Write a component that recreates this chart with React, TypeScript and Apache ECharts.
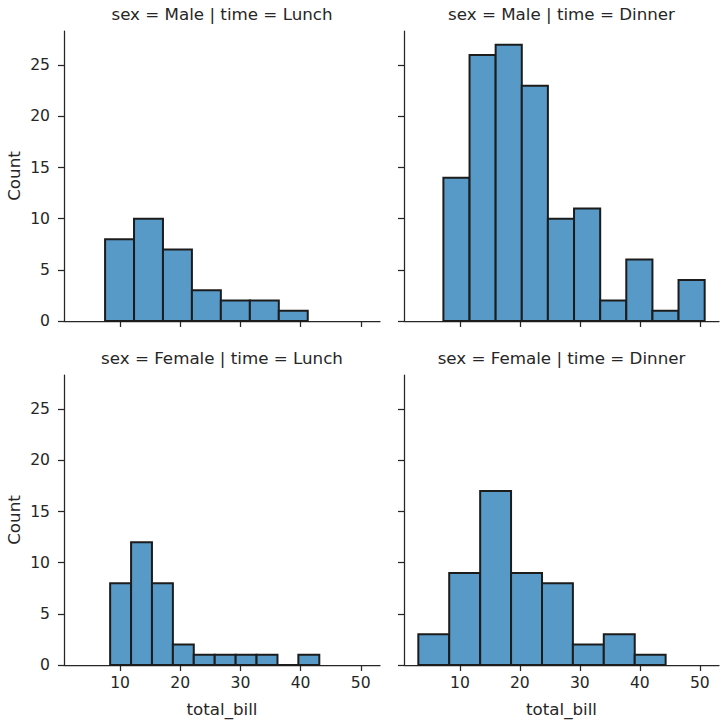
import React, { useEffect, useRef } from "react";
import * as echarts from "echarts";

// Histogram bin edges (total_bill) and counts for each facet
const maleLunchEdges = [7.51, 12.32, 17.13, 21.94, 26.75, 31.57, 36.38, 41.19];
const maleLunchCounts = [8, 10, 7, 3, 2, 2, 1];

const maleDinnerEdges = [7.25, 11.61, 15.96, 20.32, 24.67, 29.03, 33.39, 37.74, 42.1, 46.45, 50.81];
const maleDinnerCounts = [14, 26, 27, 23, 10, 11, 2, 6, 1, 4];

const femaleLunchEdges = [8.35, 11.83, 15.3, 18.78, 22.25, 25.73, 29.21, 32.68, 36.16, 39.63, 43.11];
const femaleLunchCounts = [8, 12, 8, 2, 1, 1, 1, 1, 0, 1];

const femaleDinnerEdges = [3.07, 8.22, 13.38, 18.53, 23.69, 28.84, 33.99, 39.15, 44.3];
const femaleDinnerCounts = [3, 9, 17, 9, 8, 2, 3, 1];

const panelTitles = [
  "sex = Male | time = Lunch",
  "sex = Male | time = Dinner",
  "sex = Female | time = Lunch",
  "sex = Female | time = Dinner",
];

const xTicks = [10, 20, 30, 40, 50];
const yTicks = [0, 5, 10, 15, 20, 25];
const xMin = 0.683;
const xMax = 53.197;
const yMax = 28.35;

const FONT = "DejaVu Sans";
const INK = "#262626";
const FILL = "#5799c7";
const EDGE = "#1c1c1c";
const TICK_FS = 15.6;
const LABEL_FS = 16.7;

function toBins(edges: number[], counts: number[]) {
  return counts.map((c, i) => [edges[i], edges[i + 1], c]);
}

export default function App() {
  const ref = useRef<HTMLDivElement>(null);

  useEffect(() => {
    if (!ref.current) return;
    const chart = echarts.init(ref.current, undefined, { renderer: "svg" });

    const grids = [
      { left: 64, top: 31, width: 316, height: 290 },
      { left: 404, top: 31, width: 315, height: 290 },
      { left: 64, top: 375, width: 316, height: 290 },
      { left: 404, top: 375, width: 315, height: 290 },
    ];

    const panels = [
      toBins(maleLunchEdges, maleLunchCounts),
      toBins(maleDinnerEdges, maleDinnerCounts),
      toBins(femaleLunchEdges, femaleLunchCounts),
      toBins(femaleDinnerEdges, femaleDinnerCounts),
    ];

    const axisLine = { show: true, lineStyle: { color: INK, width: 1.25 } };

    const xAxes = grids.map((_, i) => ({
      type: "value",
      gridIndex: i,
      min: xMin,
      max: xMax,
      splitLine: { show: false },
      axisLine,
      axisTick: {
        show: true,
        length: 6,
        lineStyle: { color: INK, width: 1.25 },
        customValues: xTicks,
      },
      axisLabel: {
        show: i >= 2,
        customValues: xTicks,
        margin: 10,
        color: INK,
        fontFamily: FONT,
        fontSize: TICK_FS,
      },
      name: i >= 2 ? "total_bill" : "",
      nameLocation: "middle",
      nameGap: 35,
      nameTextStyle: { color: INK, fontFamily: FONT, fontSize: LABEL_FS },
    }));

    const yAxes = grids.map((_, i) => ({
      type: "value",
      gridIndex: i,
      min: 0,
      max: yMax,
      splitLine: { show: false },
      axisLine,
      axisTick: {
        show: true,
        length: 6,
        lineStyle: { color: INK, width: 1.25 },
        customValues: yTicks,
      },
      axisLabel: {
        show: i % 2 === 0,
        customValues: yTicks,
        margin: 14,
        color: INK,
        fontFamily: FONT,
        fontSize: TICK_FS,
      },
      name: i % 2 === 0 ? "Count" : "",
      nameLocation: "middle",
      nameGap: 42,
      nameTextStyle: { color: INK, fontFamily: FONT, fontSize: LABEL_FS },
    }));

    const series = panels.map((data, i) => ({
      type: "custom",
      xAxisIndex: i,
      yAxisIndex: i,
      encode: { x: [0, 1], y: 2 },
      data,
      renderItem: (_params: any, api: any) => {
        const x0 = api.value(0);
        const x1 = api.value(1);
        const c = api.value(2);
        const p0 = api.coord([x0, c]);
        const p1 = api.coord([x1, 0]);
        return {
          type: "rect",
          shape: { x: p0[0], y: p0[1], width: p1[0] - p0[0], height: p1[1] - p0[1] },
          style: { fill: FILL, stroke: EDGE, lineWidth: 2 },
        };
      },
    }));

    const titleGraphics = panelTitles.map((t, i) => ({
      type: "text",
      x: grids[i].left + grids[i].width / 2,
      y: grids[i].top - 17,
      style: {
        text: t,
        textAlign: "center",
        textVerticalAlign: "middle",
        fill: INK,
        font: `${LABEL_FS}px '${FONT}'`,
      },
    }));

    chart.setOption({
      animation: false,
      backgroundColor: "#ffffff",
      grid: grids,
      xAxis: xAxes,
      yAxis: yAxes,
      series,
      graphic: titleGraphics,
    });

    return () => chart.dispose();
  }, []);

  return (
    <div
      ref={ref}
      style={{ position: "absolute", left: 0, top: 0, width: 725, height: 726, background: "#fff" }}
    />
  );
}
